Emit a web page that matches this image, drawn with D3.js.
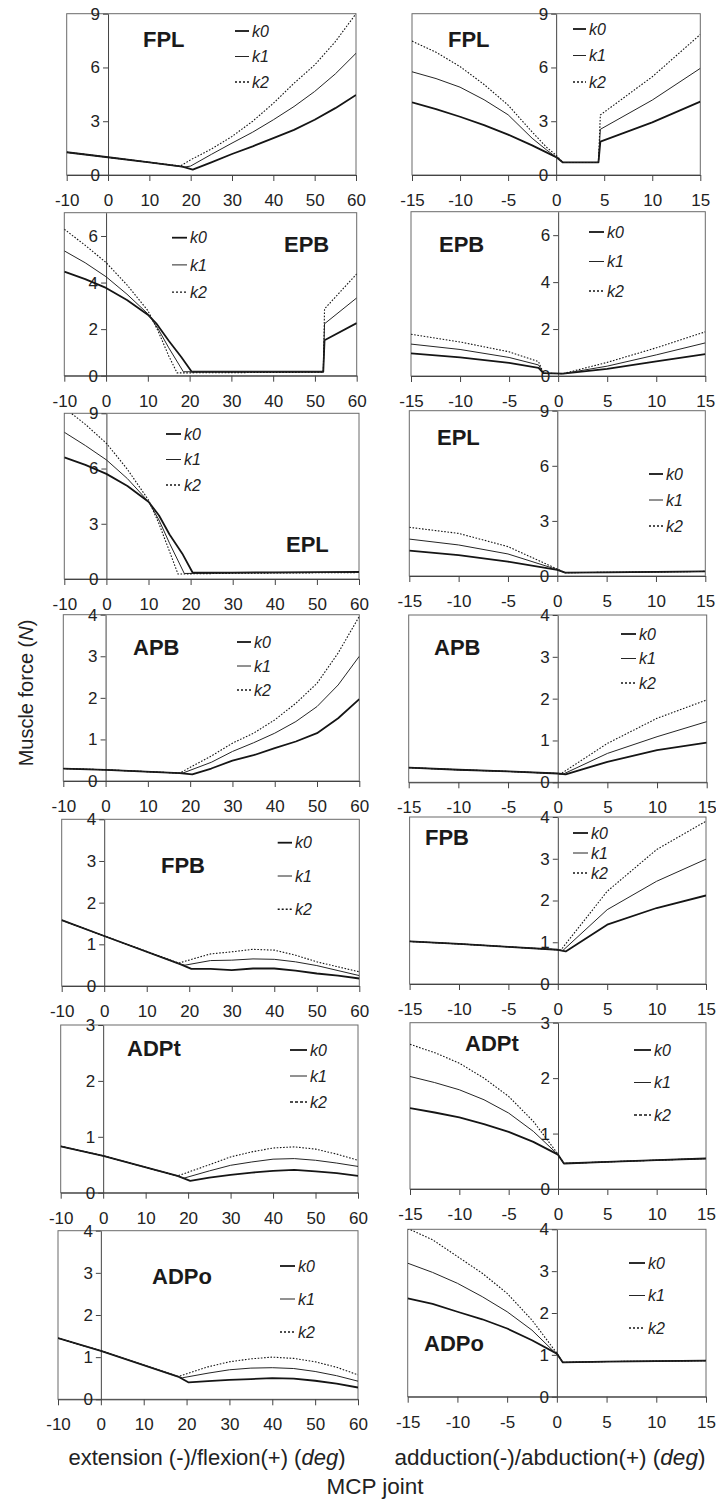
<!DOCTYPE html>
<html><head><meta charset="utf-8">
<script src="https://cdn.jsdelivr.net/npm/d3@7"></script>
<style>body{margin:0;background:#fff}svg{display:block;font-family:"Liberation Sans",Arial,sans-serif}</style>
</head><body><svg id="c" width="716" height="1500"></svg>
<script>
// ---------- categories / ticks ----------
const muscles = ["FPL","EPB","EPL","APB","FPB","ADPt","ADPo"];
const seriesNames = ["k0","k1","k2"];
const flexTicks = [-10,0,10,20,30,40,50,60];
const abdTicks = [-15,-10,-5,0,5,10,15];
const yMax = [9,7,9,4,4,3,4];
const yTicks = [[0,3,6,9],[0,2,4,6],[0,3,6,9],[0,1,2,3,4],[0,1,2,3,4],[0,1,2,3],[0,1,2,3,4]];

// ---------- data: [angle, force] ----------
// FPL
const FPL_flex_k0 = [[-10,1.27],[0,0.99],[10,0.71],[18,0.47],[20.5,0.3],[25,0.7],[30,1.17],[35,1.6],[40,2.06],[45,2.52],[50,3.08],[55,3.73],[60,4.47]];
const FPL_flex_k1 = [[-10,1.27],[0,0.99],[10,0.71],[18.5,0.44],[20,0.5],[25,1.15],[30,1.78],[35,2.39],[40,3.08],[45,3.82],[50,4.66],[55,5.64],[60,6.79]];
const FPL_flex_k2 = [[-10,1.27],[0,0.99],[10,0.71],[17.5,0.5],[20,0.85],[25,1.45],[30,2.15],[35,3.0],[40,4.0],[45,5.12],[50,6.14],[55,7.44],[60,9.0]];
const FPL_abd_k0 = [[-15,4.05],[-12.5,3.68],[-10,3.25],[-7.5,2.78],[-5,2.25],[-2.5,1.65],[0,1.0],[0.7,0.7],[4.4,0.7],[4.6,1.86],[10,2.94],[15,4.09]];
const FPL_abd_k1 = [[-15,5.76],[-12.5,5.38],[-10,4.9],[-7.5,4.2],[-5,3.36],[-2.5,2.05],[-1,1.4],[0,1.0],[0.7,0.7],[4.4,0.7],[4.6,2.55],[10,4.18],[15,5.95]];
const FPL_abd_k2 = [[-15,7.47],[-12.5,6.85],[-10,6.05],[-7.5,5.05],[-5,3.9],[-2.5,2.4],[-1,1.55],[0,1.1],[0.7,0.7],[4.4,0.7],[4.6,3.35],[10,5.48],[15,7.84]];
// EPB
const EPB_flex_k0 = [[-10,4.47],[-5,4.15],[0,3.77],[5,3.25],[10,2.62],[12,2.25],[15,1.5],[18,0.8],[20.5,0.17],[52,0.17],[52.3,1.52],[60,2.26]];
const EPB_flex_k1 = [[-10,5.36],[-5,4.85],[0,4.25],[5,3.5],[10,2.66],[12.5,2.0],[15,1.2],[18.5,0.17],[52,0.17],[52.3,2.23],[60,3.34]];
const EPB_flex_k2 = [[-10,6.29],[-5,5.6],[0,4.86],[5,3.9],[10,2.8],[12.5,1.9],[15,0.85],[17,0.12],[52,0.15],[52.3,2.87],[60,4.37]];
const EPB_abd_k0 = [[-15,0.96],[-10,0.79],[-5,0.56],[-2,0.35],[-1.5,0.12],[0.5,0.1],[5,0.3],[10,0.62],[15,0.93]];
const EPB_abd_k1 = [[-15,1.36],[-10,1.13],[-5,0.79],[-2,0.47],[-1.5,0.12],[0.5,0.1],[5,0.42],[10,0.9],[15,1.41]];
const EPB_abd_k2 = [[-15,1.78],[-10,1.45],[-5,1.03],[-2,0.61],[-1.5,0.12],[0.5,0.1],[5,0.58],[10,1.2],[15,1.88]];
// EPL
const EPL_flex_k0 = [[-10,6.61],[-5,6.2],[0,5.71],[5,5.05],[10,4.2],[12.5,3.45],[15,2.42],[18,1.39],[20.5,0.34],[30,0.35],[40,0.36],[50,0.37],[60,0.38]];
const EPL_flex_k1 = [[-10,7.97],[-5,7.25],[0,6.47],[5,5.45],[10,4.2],[12.5,3.2],[15,1.94],[18.5,0.3],[30,0.33],[60,0.36]];
const EPL_flex_k2 = [[-10,9.3],[-5,8.4],[0,7.37],[5,5.95],[10,4.29],[12.5,3.0],[15,1.49],[17,0.27],[30,0.31],[60,0.35]];
const EPL_abd_k0 = [[-15,1.38],[-10,1.14],[-5,0.78],[0,0.33],[0.8,0.18],[5,0.2],[10,0.22],[15,0.25]];
const EPL_abd_k1 = [[-15,2.01],[-10,1.69],[-5,1.2],[0,0.35],[0.8,0.18],[5,0.2],[10,0.22],[15,0.25]];
const EPL_abd_k2 = [[-15,2.65],[-10,2.32],[-5,1.6],[0,0.38],[0.8,0.18],[5,0.2],[10,0.22],[15,0.25]];
// APB
const APB_flex_k0 = [[-10,0.3],[0,0.27],[17.5,0.19],[20.5,0.16],[25,0.3],[30,0.49],[35,0.62],[40,0.79],[45,0.95],[50,1.15],[55,1.51],[60,1.97]];
const APB_flex_k1 = [[-10,0.3],[0,0.27],[17.5,0.19],[18.5,0.2],[25,0.45],[30,0.71],[35,0.92],[40,1.15],[45,1.43],[50,1.79],[55,2.31],[60,3.0]];
const APB_flex_k2 = [[-10,0.3],[0,0.27],[17.5,0.19],[25,0.6],[30,0.91],[35,1.15],[40,1.47],[45,1.87],[50,2.35],[55,3.08],[60,3.96]];
const APB_abd_k0 = [[-15,0.35],[-10,0.3],[-5,0.26],[0,0.21],[0.8,0.19],[5,0.49],[10,0.77],[15,0.95]];
const APB_abd_k1 = [[-15,0.35],[-10,0.3],[-5,0.26],[0,0.21],[0.5,0.19],[5,0.69],[10,1.09],[15,1.45]];
const APB_abd_k2 = [[-15,0.35],[-10,0.3],[-5,0.26],[0,0.21],[0.3,0.2],[5,0.93],[10,1.53],[15,1.97]];
// FPB
const FPB_flex_k0 = [[-10,1.58],[0,1.2],[18,0.52],[20.5,0.41],[25,0.41],[30,0.38],[35,0.42],[40,0.42],[45,0.37],[50,0.3],[55,0.25],[60,0.18]];
const FPB_flex_k1 = [[-10,1.58],[0,1.2],[18,0.52],[19,0.5],[25,0.61],[30,0.62],[35,0.65],[40,0.64],[45,0.58],[50,0.49],[55,0.37],[60,0.25]];
const FPB_flex_k2 = [[-10,1.58],[0,1.2],[17.5,0.55],[25,0.77],[30,0.82],[35,0.88],[40,0.86],[45,0.74],[50,0.58],[55,0.46],[60,0.34]];
const FPB_abd_k0 = [[-15,1.02],[-10,0.96],[-5,0.89],[0,0.82],[0.8,0.78],[5,1.42],[10,1.82],[15,2.12]];
const FPB_abd_k1 = [[-15,1.02],[-10,0.96],[-5,0.89],[0,0.82],[0.5,0.8],[5,1.78],[10,2.46],[15,2.99]];
const FPB_abd_k2 = [[-15,1.02],[-10,0.96],[-5,0.89],[0,0.82],[0.3,0.81],[5,2.22],[10,3.22],[15,3.9]];
// ADPt
const ADPt_flex_k0 = [[-10,0.83],[0,0.66],[17.5,0.3],[20.5,0.21],[25,0.27],[30,0.32],[35,0.36],[40,0.39],[45,0.41],[50,0.38],[55,0.35],[60,0.3]];
const ADPt_flex_k1 = [[-10,0.83],[0,0.66],[17.5,0.3],[19,0.26],[25,0.39],[30,0.49],[35,0.55],[40,0.6],[45,0.61],[50,0.58],[55,0.53],[60,0.47]];
const ADPt_flex_k2 = [[-10,0.83],[0,0.66],[17.5,0.3],[25,0.5],[30,0.64],[35,0.73],[40,0.8],[45,0.82],[50,0.78],[55,0.69],[60,0.58]];
const ADPt_abd_k0 = [[-15,1.46],[-12.5,1.38],[-10,1.29],[-7.5,1.17],[-5,1.03],[-2.5,0.85],[0,0.62],[0.6,0.46],[5,0.49],[10,0.52],[15,0.55]];
const ADPt_abd_k1 = [[-15,2.03],[-12.5,1.92],[-10,1.79],[-7.5,1.61],[-5,1.37],[-2.5,1.04],[0,0.62],[0.6,0.46],[5,0.49],[10,0.52],[15,0.55]];
const ADPt_abd_k2 = [[-15,2.61],[-12.5,2.46],[-10,2.27],[-7.5,2.0],[-5,1.67],[-2.5,1.22],[0,0.63],[0.6,0.46],[5,0.49],[10,0.52],[15,0.55]];
// ADPo
const ADPo_flex_k0 = [[-10,1.45],[0,1.15],[18,0.54],[20.5,0.4],[25,0.43],[30,0.46],[35,0.48],[40,0.5],[45,0.49],[50,0.44],[55,0.37],[60,0.28]];
const ADPo_flex_k1 = [[-10,1.45],[0,1.15],[18,0.54],[19,0.51],[25,0.62],[30,0.7],[35,0.74],[40,0.75],[45,0.73],[50,0.66],[55,0.56],[60,0.43]];
const ADPo_flex_k2 = [[-10,1.45],[0,1.15],[18,0.54],[25,0.77],[30,0.89],[35,0.96],[40,1.0],[45,0.97],[50,0.89],[55,0.76],[60,0.58]];
const ADPo_abd_k0 = [[-15,2.35],[-12.5,2.22],[-10,2.03],[-7.5,1.85],[-5,1.63],[-2.5,1.35],[0,1.03],[0.6,0.82],[5,0.84],[10,0.85],[15,0.86]];
const ADPo_abd_k1 = [[-15,3.19],[-12.5,2.97],[-10,2.71],[-7.5,2.39],[-5,2.03],[-2.5,1.59],[0,1.01],[0.6,0.82],[5,0.84],[10,0.85],[15,0.86]];
const ADPo_abd_k2 = [[-15,4.02],[-12.5,3.75],[-10,3.35],[-7.5,2.95],[-5,2.47],[-2.5,1.83],[0,1.04],[0.6,0.82],[5,0.84],[10,0.85],[15,0.86]];

const flexData = [[FPL_flex_k0,FPL_flex_k1,FPL_flex_k2],[EPB_flex_k0,EPB_flex_k1,EPB_flex_k2],[EPL_flex_k0,EPL_flex_k1,EPL_flex_k2],[APB_flex_k0,APB_flex_k1,APB_flex_k2],[FPB_flex_k0,FPB_flex_k1,FPB_flex_k2],[ADPt_flex_k0,ADPt_flex_k1,ADPt_flex_k2],[ADPo_flex_k0,ADPo_flex_k1,ADPo_flex_k2]];
const abdData = [[FPL_abd_k0,FPL_abd_k1,FPL_abd_k2],[EPB_abd_k0,EPB_abd_k1,EPB_abd_k2],[EPL_abd_k0,EPL_abd_k1,EPL_abd_k2],[APB_abd_k0,APB_abd_k1,APB_abd_k2],[FPB_abd_k0,FPB_abd_k1,FPB_abd_k2],[ADPt_abd_k0,ADPt_abd_k1,ADPt_abd_k2],[ADPo_abd_k0,ADPo_abd_k1,ADPo_abd_k2]];

// ---------- layout (pixels) ----------
// [left, right, top, bottom]
const leftBoxes = [[66.7,356,13.7,175],[64.3,356.7,212.7,375.7],[64.3,359,413.3,579],[63.3,359.3,614.7,781],[61.7,359.3,819.3,986],[60.7,358,1025,1192.7],[58,358,1230.7,1399.3]];
const rightBoxes = [[412,700.3,13.7,175],[411,705.3,211.7,376],[409.3,705.3,410.7,576],[408.7,706.7,615,782.3],[409.6,706,817,984],[410,706,1022.7,1189],[407.7,706,1229.3,1396.7]];
// legend: [lineStartX, textX, firstY, spacing]
const leftLegend = [[235,252,31,25.5],[172,190,237.7,27.2],[166,184,434,25.5],[237,254,642,24],[277.7,295,842.7,33.3],[290,310,1050,26],[280,298,1266,33]];
const rightLegend = [[573,589,29,26.5],[589,607,232,29.5],[649,666,474,26],[621,639,634,24.5],[573,591,833,20],[634,654,1050,32.5],[629,648,1263,32.5]];
// title: [startX, centerY]
const leftTitle = [[143,39],[284,244],[286,544],[133,647],[161,865],[127,1048],[152,1276]];
const rightTitle = [[448,39],[439,244],[437,437],[434,647],[425,837],[465,1043],[424,1343]];

const styles = [
  {w:1.8, c:"#151515", dash:null},
  {w:1.0, c:"#252525", dash:null},
  {w:1.1, c:"#151515", dash:"1.6,1.6"}
];

const svg = d3.select("#c");
const defs = svg.append("defs");
let clipId = 0;

function drawPanel(i, box, domain, ticks, data, leg, title) {
  const [l, r, t, b] = box;
  const x = d3.scaleLinear().domain(domain).range([l, r]);
  const y = d3.scaleLinear().domain([0, yMax[i]]).range([b, t]);
  const g = svg.append("g");
  const id = "clip" + (clipId++);
  defs.append("clipPath").attr("id", id).append("rect")
    .attr("x", l).attr("y", t).attr("width", r - l).attr("height", b - t);

  g.append("rect").attr("x", l).attr("y", t).attr("width", r - l).attr("height", b - t)
    .attr("fill", "none").attr("stroke", "#6a6a6a").attr("stroke-width", 1);

  const xa = g.append("g").attr("transform", `translate(0,${y(0)})`)
    .call(d3.axisBottom(x).tickValues(ticks).tickSize(6).tickPadding(13).tickSizeOuter(0).tickFormat(d => String(d)));
  const ya = g.append("g").attr("transform", `translate(${x(0)},0)`)
    .call(d3.axisLeft(y).tickValues(yTicks[i]).tickSize(5).tickPadding(3).tickSizeOuter(0).tickFormat(d => String(d)));
  [xa, ya].forEach(a => {
    a.select(".domain").attr("stroke", "#444");
    a.selectAll(".tick line").attr("stroke", "#444");
    a.selectAll("text").attr("font-size", 17).attr("fill", "#222")
      .attr("font-family", '"Liberation Sans",Arial,sans-serif');
  });

  const line = d3.line().x(d => x(d[0])).y(d => y(d[1]));
  const lg = g.append("g").attr("clip-path", `url(#${id})`);
  data.forEach((s, k) => {
    const st = styles[k];
    lg.append("path").datum(s).attr("d", line).attr("fill", "none")
      .attr("stroke", st.c).attr("stroke-width", st.w)
      .attr("stroke-dasharray", st.dash).attr("stroke-linejoin", "round");
  });

  // legend
  const [lx, tx, ly, sp] = leg;
  seriesNames.forEach((n, k) => {
    const st = styles[k];
    const yy = ly + k * sp;
    g.append("line").attr("x1", lx).attr("x2", tx - 3).attr("y1", yy).attr("y2", yy)
      .attr("stroke", st.c).attr("stroke-width", k === 2 ? 1.4 : st.w)
      .attr("stroke-dasharray", k === 2 ? (muscles[i] === "ADPt" ? "3,2" : "2,2") : null);
    g.append("text").attr("x", tx).attr("y", yy).attr("dy", "0.36em")
      .attr("font-size", 16).attr("font-style", "italic").attr("fill", "#222").text(n);
  });

  g.append("text").attr("x", title[0]).attr("y", title[1]).attr("dy", "0.36em")
    .attr("font-size", 22).attr("font-weight", "bold").attr("fill", "#1a1a1a").text(muscles[i]);
}

muscles.forEach((m, i) => {
  drawPanel(i, leftBoxes[i], [-10, 60], flexTicks, flexData[i], leftLegend[i], leftTitle[i]);
  drawPanel(i, rightBoxes[i], [-15, 15], abdTicks, abdData[i], rightLegend[i], rightTitle[i]);
});

// axis titles
const yl = svg.append("text").attr("transform", "translate(33,693) rotate(-90)")
  .attr("text-anchor", "middle").attr("font-size", 20).attr("fill", "#222");
yl.append("tspan").text("Muscle force (");
yl.append("tspan").attr("font-style", "italic").text("N");
yl.append("tspan").text(")");

const xl1 = svg.append("text").attr("x", 207).attr("y", 1465).attr("text-anchor", "middle")
  .attr("font-size", 22).attr("fill", "#222");
xl1.append("tspan").text("extension (-)/flexion(+) (");
xl1.append("tspan").attr("font-style", "italic").text("deg");
xl1.append("tspan").text(")");

const xl2 = svg.append("text").attr("x", 550).attr("y", 1465).attr("text-anchor", "middle")
  .attr("font-size", 22.5).attr("fill", "#222");
xl2.append("tspan").text("adduction(-)/abduction(+) (");
xl2.append("tspan").attr("font-style", "italic").text("deg");
xl2.append("tspan").text(")");

svg.append("text").attr("x", 375).attr("y", 1494).attr("text-anchor", "middle")
  .attr("font-size", 22.5).attr("fill", "#222").text("MCP joint");
</script></body></html>
